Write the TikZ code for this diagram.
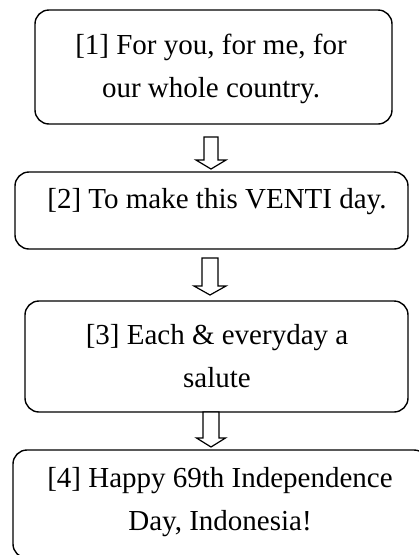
\documentclass[tikz,border=0pt]{standalone}
\usepackage{fontspec}
\setmainfont{Liberation Serif}
\usetikzlibrary{calc}
\tikzset{
  x=1pt, y=-1pt,
  box/.style={draw=black, line width=1.4pt, rounded corners=14pt},
  txt/.style={align=center, inner sep=0pt, font=\fontsize{29}{43}\selectfont},
  arr/.style={draw=black, line width=1.2pt, fill=white, line join=miter},
}
\newcommand{\blockarr}[4]{% top, tip, shaft half width, head half width
  \draw[arr] ($(#1)+(-#3,0)$) -- ($(#2)+(-#3,-9)$) -- ($(#2)+(-#4,-9)$) -- (#2)
    -- ($(#2)+(#4,-9)$) -- ($(#2)+(#3,-9)$) -- ($(#1)+(#3,0)$) -- cycle;}
\begin{document}
\begin{tikzpicture}
\useasboundingbox (0,0) rectangle (419,555);
\clip (0,0) rectangle (419,555);
% boxes
\node[box, minimum width=357pt, minimum height=114pt] (b1) at (213.5,67) {};
\node[box, minimum width=393pt, minimum height=77pt] (b2) at (211.5,210.5) {};
\node[box, minimum width=383pt, minimum height=111pt] (b3) at (216.5,356.5) {};
\node[box, minimum width=415pt, minimum height=108pt] (b4) at (220.5,504) {};
% texts (base anchor = baseline of the last line)
\node[txt, anchor=base] (t1) at (211,97) {[1] For you, for me, for\\our whole country.};
\node[txt, anchor=base] (t2) at (217,208) {[2] To make this VENTI day.};
\node[txt, anchor=base] (t3) at (217,387) {[3] Each \& everyday a\\salute};
\node[txt, anchor=base] (t4) at (220,530) {[4] Happy 69th Independence\\Day, Indonesia!};
% arrows
\coordinate (a1s) at (211,137);
\coordinate (a1t) at (211,169);
\coordinate (a2s) at (210,258);
\coordinate (a2t) at (210,295);
\coordinate (a3s) at (211,412);
\coordinate (a3t) at (211,447);
\blockarr{a1s}{a1t}{7}{15}
\blockarr{a2s}{a2t}{8}{16}
\blockarr{a3s}{a3t}{8}{14.5}
\end{tikzpicture}
\end{document}
